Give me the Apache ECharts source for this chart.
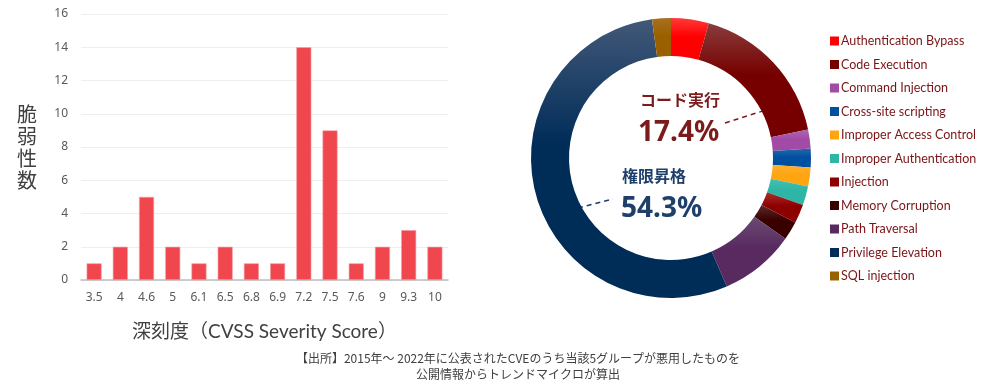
<!DOCTYPE html>
<html><head><meta charset="utf-8">
<script src="https://cdn.jsdelivr.net/npm/echarts@6/dist/echarts.min.js"></script>
<style>html,body{margin:0;padding:0;background:#fff}#c{width:991px;height:389px}</style>
</head><body><div id="c"></div>
<script>
const scoreCategories = ['3.5','4','4.6','5','6.1','6.5','6.8','6.9','7.2','7.5','7.6','9','9.3','10'];
const vulnCounts = [1,2,5,2,1,2,1,1,14,9,1,2,3,2];
const yTicks = [0,2,4,6,8,10,12,14,16];
const typeNames = ['Authentication Bypass','Code Execution','Command Injection','Cross-site scripting','Improper Access Control','Improper Authentication','Injection','Memory Corruption','Path Traversal','Privilege Elevation','SQL injection'];
const typeCounts = [2,8,1,1,1,1,1,1,4,25,1];
const typeColors = ['#FF0000','#760000','#A24BA6','#0050A0','#FFA512','#2DB5A5','#8E0000','#3A0000','#582A60','#002C58','#9A6000'];
const typeTopColors = ['#FF3A3A','#8A3C3C','#AE64B0','#2A66A8','#FFB030','#45C0B2','#A83030','#5A2A2A','#6A4A72','#425878','#A87020'];
const footerLines = ['【出所】2015年～ 2022年に公表されたCVEのうち当該5グループが悪用したものを','公開情報からトレンドマイクロが算出'];

const total = typeCounts.reduce((a,b)=>a+b,0);
const pct = i => (typeCounts[i]/total*100).toFixed(1)+'%';
const latin = "Lato, 'Noto Sans CJK JP', sans-serif";
const cjk = "'Noto Sans CJK JP', sans-serif";

const chart = echarts.init(document.getElementById('c'));
chart.setOption({
  animation:false,
  backgroundColor:'#fff',
  grid:{left:81, top:14, width:367, height:266},
  xAxis:{type:'category', data:scoreCategories,
    axisLine:{lineStyle:{color:'#BFBFBF', width:1.5}}, axisTick:{show:false},
    axisLabel:{color:'#595959', fontSize:12, fontFamily:"'Noto Sans', sans-serif", margin:12},
    name:'深刻度（CVSS Severity Score）', nameLocation:'middle', nameGap:42,
    nameTextStyle:{color:'#404040', fontSize:19, fontFamily:latin}},
  yAxis:{type:'value', min:yTicks[0], max:yTicks[yTicks.length-1], interval:2,
    axisLine:{show:false}, axisTick:{show:false},
    splitLine:{lineStyle:{color:'#EEEEEE'}},
    axisLabel:{color:'#595959', fontSize:12, fontFamily:"'Noto Sans', sans-serif", margin:13},
    name:'脆\n弱\n性\n数', nameLocation:'middle', nameGap:44, nameRotate:0,
    nameTextStyle:{color:'#404040', fontSize:20, lineHeight:22, fontFamily:cjk, align:'right'}},
  legend:{orient:'vertical', left:825, top:29, itemWidth:9, itemHeight:9, itemGap:9.5, padding:5,
    icon:'rect', selectedMode:false,
    textStyle:{color:'#7A1416', fontSize:12.5, lineHeight:14, fontFamily:latin, padding:[0,0,0,-3]},
    data:typeNames.map((n,i)=>({name:n, itemStyle:{color:typeColors[i]}}))},
  series:[
    {type:'bar', data:vulnCounts, barWidth:15,
     itemStyle:{color:'#F0474F', borderColor:'#F7A0A4', borderWidth:0.6}},
    {type:'pie', center:[671,158], radius:[102,140], startAngle:90, clockwise:true,
     label:{show:false}, labelLine:{show:false}, emphasis:{disabled:true},
     data:typeNames.map((n,i)=>({name:n, value:typeCounts[i],
       itemStyle:{color:new echarts.graphic.LinearGradient(0,0,0,1,[
         {offset:0,color:typeTopColors[i]},{offset:0.45,color:typeColors[i]},{offset:1,color:typeColors[i]}])}}))}
  ],
  graphic:[
    {type:'text', left:640, top:92, style:{text:'コード実行', fill:'#7B1C1C', font:"bold 16px 'Noto Sans CJK JP'"}},
    {type:'text', left:638, top:119, style:{text:pct(1), fill:'#7B1C1C', font:"bold 28px 'Noto Sans'"}},
    {type:'line', shape:{x1:725,y1:123,x2:766,y2:110}, style:{stroke:'#7B1C1C', lineWidth:1.5, lineDash:[5,4]}},
    {type:'text', left:622, top:168, style:{text:'権限昇格', fill:'#1F3F6B', font:"bold 16px 'Noto Sans CJK JP'"}},
    {type:'text', left:621, top:195, style:{text:pct(9), fill:'#1F3F6B', font:"bold 28px 'Noto Sans'"}},
    {type:'line', shape:{x1:578,y1:208,x2:613,y2:199}, style:{stroke:'#1F3F6B', lineWidth:1.5, lineDash:[5,4]}},
    {type:'text', x:518, y:352, style:{text:footerLines[0], fill:'#404040', font:"12px 'Noto Sans CJK JP'", textAlign:'center'}},
    {type:'text', x:518, y:368, style:{text:footerLines[1], fill:'#404040', font:"12px 'Noto Sans CJK JP'", textAlign:'center'}}
  ]
});
</script></body></html>
